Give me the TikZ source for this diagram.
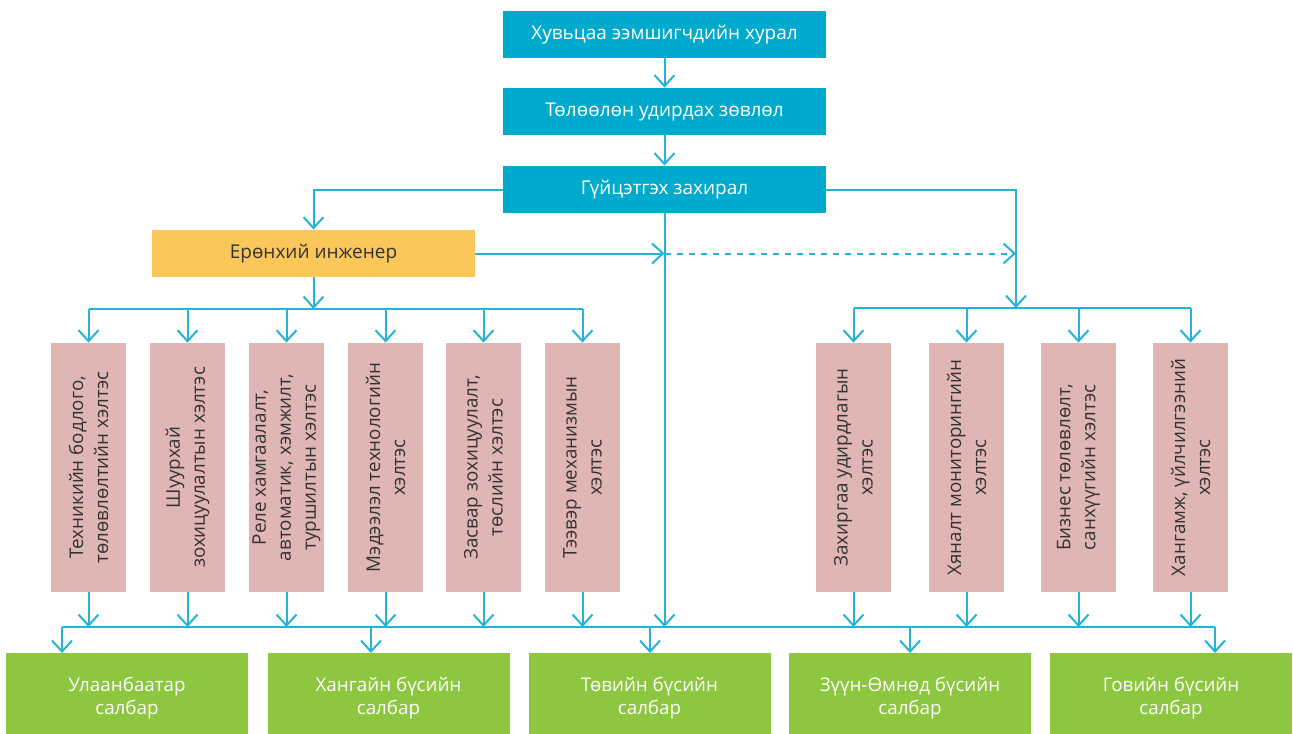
\documentclass[tikz,border=0pt]{standalone}
\usepackage{fontspec}
\setmainfont{Open Sans}
\usepackage{tikz}
\usetikzlibrary{arrows.meta, positioning}
\definecolor{boardblue}{RGB}{0, 170, 204}
\definecolor{lineblue}{RGB}{38, 180, 214}
\definecolor{enggold}{RGB}{251, 199, 90}
\definecolor{deptpink}{RGB}{224, 182, 180}
\definecolor{branchgreen}{RGB}{141, 198, 63}
\definecolor{darktext}{RGB}{51, 51, 51}

\begin{document}
\begin{tikzpicture}[x=0.5pt, y=-0.5pt,
  topbox/.style={fill=boardblue, text=white, minimum width=161.5pt, minimum height=23.5pt, inner sep=0pt, font=\fontsize{9.5}{11}\selectfont},
  engbox/.style={fill=enggold, text=darktext, minimum width=161.5pt, minimum height=23.5pt, inner sep=0pt, font=\fontsize{9.5}{11}\selectfont},
  deptbox/.style={fill=deptpink, text=darktext, rotate=90, minimum width=124.5pt, minimum height=37.5pt, inner sep=0pt, align=center, font=\fontsize{9.4}{12.5}\selectfont},
  branchbox/.style={fill=branchgreen, text=white, minimum width=121pt, minimum height=45pt, inner sep=0pt, align=center, font=\fontsize{9.4}{11.5}\selectfont},
  link/.style={draw=lineblue, line width=1pt, -{Straight Barb[length=5.5pt, width=10pt]}},
  bus/.style={draw=lineblue, line width=1pt}
]
  \useasboundingbox (0, 0) rectangle (1293, 733);

  % Top management
  \node[topbox] (meeting) at (664.5, 34.5) {Хувьцаа ээмшигчдийн хурал};
  \node[topbox] (board) at (664.5, 111.5) {Төлөөлөн удирдах зөвлөл};
  \node[topbox] (ceo) at (664.5, 189.5) {Гүйцэтгэх захирал};
  \node[engbox] (eng) at (313.5, 253.5) {Ерөнхий инженер};

  \draw[link] (meeting) -- (board);
  \draw[link] (board) -- (ceo);

  % Bus lines
  \coordinate (lbus) at (313.5, 309);
  \coordinate (rbus) at (1016, 308);
  \coordinate (bbus) at (664.5, 627);
  \coordinate (dashend) at (1016, 253.5);

  \draw[link] (ceo.west) -| (eng.north);
  \draw[link] (ceo.east) -| (rbus);
  \draw[link] (eng.east) -- (eng.east -| ceo.south);
  \draw[link, dash pattern=on 3pt off 3pt] (eng.east -| ceo.south) -- (dashend);
  \draw[link] (eng.south) -- (lbus);
  \draw[link] (ceo.south) -- (bbus);

  % Departments under the chief engineer
  \node[deptbox] (d1) at (88.5, 467.5) {Техникийн бодлого,\\ төлөвлөлтийн хэлтэс};
  \node[deptbox] (d2) at (187.5, 467.5) {Шуурхай\\ зохицуулалтын хэлтэс};
  \node[deptbox] (d3) at (286.5, 467.5) {Реле хамгаалалт,\\ автоматик, хэмжилт,\\ туршилтын хэлтэс};
  \node[deptbox] (d4) at (385.5, 467.5) {Мэдээлэл технологийн\\ хэлтэс};
  \node[deptbox] (d5) at (483.5, 467.5) {Засвар зохицуулалт,\\ төслийн хэлтэс};
  \node[deptbox] (d6) at (582.5, 467.5) {Тээвэр механизмын\\ хэлтэс};

  % Departments under the CEO
  \node[deptbox] (d7) at (853.5, 467.5) {Захиргаа удирдлагын\\ хэлтэс};
  \node[deptbox] (d8) at (966.5, 467.5) {Хяналт мониторингийн\\ хэлтэс};
  \node[deptbox] (d9) at (1078.5, 467.5) {Бизнес төлөвлөлт,\\ санхүүгийн хэлтэс};
  \node[deptbox] (d10) at (1190.5, 467.5) {Хангамж, үйлчилгээний\\ хэлтэс};

  \draw[bus] (d1.east |- lbus) -- (d6.east |- lbus);
  \draw[bus] (d7.east |- rbus) -- (d10.east |- rbus);
  \draw[link] (d1.east |- lbus) -- (d1.east);
  \draw[link] (d2.east |- lbus) -- (d2.east);
  \draw[link] (d3.east |- lbus) -- (d3.east);
  \draw[link] (d4.east |- lbus) -- (d4.east);
  \draw[link] (d5.east |- lbus) -- (d5.east);
  \draw[link] (d6.east |- lbus) -- (d6.east);
  \draw[link] (d7.east |- rbus) -- (d7.east);
  \draw[link] (d8.east |- rbus) -- (d8.east);
  \draw[link] (d9.east |- rbus) -- (d9.east);
  \draw[link] (d10.east |- rbus) -- (d10.east);

  % Branches
  \node[branchbox] (b1) at (127, 698) {Улаанбаатар\\ салбар};
  \node[branchbox] (b2) at (388.5, 698) {Хангайн бүсийн\\ салбар};
  \node[branchbox] (b3) at (649.5, 698) {Төвийн бүсийн\\ салбар};
  \node[branchbox] (b4) at (910, 698) {Зүүн-Өмнөд бүсийн\\ салбар};
  \node[branchbox] (b5) at (1171, 698) {Говийн бүсийн\\ салбар};

  \coordinate (b1in) at (62, 653);
  \coordinate (b2in) at (371, 653);
  \coordinate (b3in) at (650, 653);
  \coordinate (b4in) at (910, 653);
  \coordinate (b5in) at (1215, 653);

  \draw[link] (d1.west) -- (d1.west |- bbus);
  \draw[link] (d2.west) -- (d2.west |- bbus);
  \draw[link] (d3.west) -- (d3.west |- bbus);
  \draw[link] (d4.west) -- (d4.west |- bbus);
  \draw[link] (d5.west) -- (d5.west |- bbus);
  \draw[link] (d6.west) -- (d6.west |- bbus);
  \draw[link] (d7.west) -- (d7.west |- bbus);
  \draw[link] (d8.west) -- (d8.west |- bbus);
  \draw[link] (d9.west) -- (d9.west |- bbus);
  \draw[link] (d10.west) -- (d10.west |- bbus);

  \draw[bus] (b1in |- bbus) -- (b5in |- bbus);
  \draw[link] (b1in |- bbus) -- (b1in);
  \draw[link] (b2in |- bbus) -- (b2in);
  \draw[link] (b3in |- bbus) -- (b3in);
  \draw[link] (b4in |- bbus) -- (b4in);
  \draw[link] (b5in |- bbus) -- (b5in);
\end{tikzpicture}
\end{document}
